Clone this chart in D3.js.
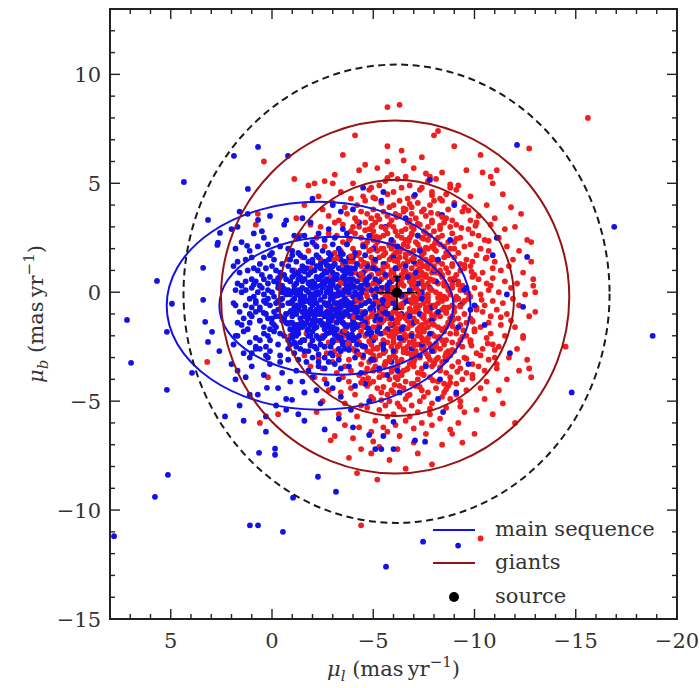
<!DOCTYPE html>
<html><head><meta charset="utf-8">
<script src="https://cdn.jsdelivr.net/npm/d3@7"></script>
<style>body{margin:0;background:#fff}svg{display:block}</style>
</head><body><svg id="c" width="700" height="688"></svg>
<script>
// ---- axes ----
const xDomain=[8,-20], yDomain=[-15,13];
const xMajor=[5,0,-5,-10,-15,-20];
const yMajor=[10,5,0,-5,-10,-15];
// ---- giants (red) : [mu_l, mu_b] ----
const giantsCore=[
[-4.3,5.6],[-5.9,5.4],[-7.0,5.7],[-8.4,5.5],[-6.6,5.3],[-3.1,5.4],[-9.6,5.6],[-5.2,5.7],[-7.8,5.3],[-10.4,5.5],
[-5.6,5.1],[-6.8,4.9],[-4.0,5.0],[-8.1,5.2],[-7.4,4.8],[-2.6,5.1],[-9.2,4.9],[-6.2,5.2],[-4.9,4.8],[-10.9,5.0],[-7.7,5.1],[-5.3,4.9],[-8.8,4.8],[-1.8,4.9],
[-6.0,4.6],[-4.5,4.4],[-7.3,4.7],[-8.6,4.5],[-5.1,4.3],[-3.4,4.6],[-9.8,4.4],[-6.7,4.3],[-7.9,4.6],[-4.8,4.7],[-11.4,4.5],[-5.7,4.5],[-2.3,4.4],[-8.3,4.3],[-6.4,4.8],[-9.1,4.7],[-3.9,4.3],[-7.0,4.4],
[-5.4,4.1],[-6.9,3.9],[-4.2,4.0],[-8.0,4.2],[-7.5,3.8],[-3.0,4.1],[-9.5,3.9],[-6.3,4.2],[-5.0,3.8],[-10.6,4.0],[-7.2,4.1],[-5.8,3.9],[-8.7,3.8],[-1.6,4.0],[-4.6,4.2],[-6.6,3.8],[-9.0,4.1],[-3.6,3.9],[-7.8,4.0],[-11.8,3.9],[-6.0,4.0],[-2.5,3.8],[-8.4,4.2],
[-6.1,3.6],[-4.9,3.4],[-7.6,3.5],[-5.5,3.7],[-8.9,3.3],[-3.7,3.6],[-6.8,3.3],[-10.2,3.5],[-4.4,3.7],[-7.1,3.4],[-5.9,3.3],[-9.4,3.7],[-2.8,3.5],[-8.2,3.6],[-6.5,3.7],[-5.2,3.5],[-11.0,3.4],[-7.9,3.3],[-3.3,3.3],[-6.3,3.5],[-8.6,3.4],[-4.7,3.6],[-12.3,3.6],[-7.4,3.7],[-1.2,3.4],[-5.7,3.5],[-9.8,3.3],[-6.9,3.6],[-4.1,3.4],
[-5.8,3.1],[-7.0,2.9],[-4.3,3.0],[-8.5,3.2],[-6.4,2.8],[-3.5,3.1],[-9.7,2.9],[-5.1,3.2],[-7.7,3.0],[-6.1,2.8],[-10.8,3.1],[-4.8,2.9],[-8.0,2.8],[-2.4,3.0],[-6.7,3.2],[-5.4,3.0],[-9.1,3.1],[-7.3,3.1],[-3.9,2.8],[-11.5,2.9],[-6.0,3.0],[-8.3,2.9],[-4.6,3.2],[-7.5,2.8],[-5.6,2.9],[-10.1,3.2],[-1.9,3.1],[-6.9,3.0],[-8.8,3.0],[-3.1,3.2],[-5.0,2.8],[-7.9,3.2],[-6.6,2.9],[-12.0,3.0],[-4.0,3.0],
[-6.2,2.6],[-5.0,2.4],[-7.4,2.5],[-4.1,2.7],[-8.7,2.3],[-6.6,2.4],[-3.2,2.6],[-9.3,2.5],[-5.7,2.7],[-7.8,2.6],[-10.5,2.4],[-4.7,2.3],[-6.9,2.7],[-8.1,2.4],[-2.2,2.5],[-5.3,2.5],[-7.1,2.3],[-9.9,2.7],[-6.0,2.3],[-3.8,2.4],[-8.4,2.6],[-11.2,2.5],[-5.5,2.6],[-7.6,2.7],[-4.4,2.5],[-6.4,2.5],[-9.0,2.3],[-1.4,2.6],[-8.9,2.7],[-5.9,2.4],[-7.2,2.6],[-3.5,2.3],[-10.2,2.6],[-6.8,2.5],[-4.9,2.6],[-8.2,2.5],[-12.6,2.4],[-5.2,2.3],[-7.7,2.4],[-2.8,2.7],
[-6.0,2.1],[-5.2,1.9],[-7.3,2.0],[-4.5,2.2],[-8.6,1.8],[-6.5,2.2],[-3.4,1.9],[-9.5,2.1],[-5.6,1.8],[-7.9,2.1],[-10.7,1.9],[-4.0,2.0],[-6.8,1.8],[-8.3,2.2],[-2.6,2.1],[-5.4,2.0],[-7.0,1.9],[-9.2,1.8],[-6.2,1.9],[-3.7,2.2],[-8.0,2.0],[-11.6,2.1],[-5.8,2.2],[-7.5,1.8],[-4.8,1.9],[-6.4,2.0],[-9.8,2.2],[-1.8,1.9],[-8.8,2.0],[-5.1,2.1],[-7.2,2.2],[-3.1,1.8],[-10.3,2.0],[-6.7,2.1],[-4.3,1.8],[-8.5,2.1],[-12.2,1.9],[-5.5,2.0],[-7.7,2.0],[-2.1,2.2],[-6.1,1.8],[-9.0,2.0],[-4.6,2.1],[-7.4,1.9],[-5.9,2.0],[-8.1,1.9],
[-6.3,1.6],[-5.1,1.4],[-7.6,1.5],[-4.2,1.7],[-8.9,1.3],[-6.7,1.4],[-3.3,1.6],[-9.6,1.5],[-5.5,1.7],[-7.9,1.6],[-11.0,1.4],[-4.7,1.3],[-6.0,1.7],[-8.2,1.4],[-2.4,1.5],[-5.8,1.5],[-7.1,1.3],[-10.1,1.7],[-6.5,1.3],[-3.8,1.4],[-8.5,1.6],[-11.9,1.5],[-5.3,1.6],[-7.4,1.7],[-4.4,1.5],[-6.1,1.5],[-9.3,1.3],[-1.5,1.6],[-8.7,1.7],[-5.0,1.4],[-7.0,1.6],[-3.5,1.3],[-10.6,1.6],[-6.9,1.5],[-4.9,1.6],[-8.0,1.5],[-12.8,1.4],[-5.6,1.3],[-7.8,1.4],[-2.9,1.7],[-6.2,1.4],[-9.0,1.6],[-4.0,1.4],[-7.3,1.4],[-5.9,1.6],[-8.4,1.3],[-6.6,1.6],[-3.0,1.5],[-9.9,1.4],[-7.7,1.3],[-0.8,1.5],
[-6.1,1.1],[-5.3,0.9],[-7.2,1.0],[-4.4,1.2],[-8.4,0.8],[-6.6,0.9],[-3.6,1.1],[-9.3,1.0],[-5.7,1.2],[-7.7,1.1],[-10.4,0.9],[-4.9,0.8],[-6.3,1.2],[-8.1,0.9],[-2.7,1.0],[-5.9,1.0],[-7.0,0.8],[-9.8,1.2],[-6.8,0.8],[-4.1,0.9],[-8.6,1.1],[-11.3,1.0],[-5.1,1.1],[-7.5,1.2],[-4.6,1.0],[-6.0,0.9],[-9.1,0.8],[-1.9,1.1],[-8.9,1.2],[-5.5,0.9],[-7.3,1.1],[-3.2,0.8],[-10.9,1.1],[-6.5,1.0],[-5.0,1.2],[-8.3,1.0],[-12.4,0.9],[-5.8,0.8],[-7.9,0.9],[-3.0,1.2],[-6.4,0.8],[-9.5,1.1],[-4.3,0.8],[-7.4,0.9],[-6.2,1.1],[-8.0,1.2],[-6.9,1.1],[-3.9,1.0],[-10.0,0.8],[-7.6,0.8],[-1.1,1.0],[-5.4,1.0],[-8.7,0.9],[-4.8,1.1],[-11.7,1.2],
[-6.0,0.6],[-5.2,0.4],[-7.4,0.5],[-4.5,0.7],[-8.6,0.3],[-6.4,0.4],[-3.4,0.6],[-9.2,0.5],[-5.6,0.7],[-7.8,0.6],[-10.6,0.4],[-4.8,0.3],[-6.7,0.7],[-8.2,0.4],[-2.5,0.5],[-5.9,0.5],[-7.1,0.3],[-9.9,0.7],[-6.2,0.3],[-3.9,0.4],[-8.8,0.6],[-11.5,0.5],[-5.4,0.6],[-7.6,0.7],[-4.2,0.5],[-6.3,0.5],[-9.4,0.3],[-1.6,0.6],[-8.4,0.7],[-5.0,0.4],[-7.0,0.6],[-3.0,0.3],[-10.2,0.6],[-6.8,0.5],[-4.7,0.6],[-8.0,0.5],[-12.1,0.4],[-5.7,0.3],[-7.7,0.4],[-2.9,0.7],[-6.5,0.3],[-9.0,0.6],[-4.0,0.3],[-7.3,0.4],[-6.1,0.7],[-8.5,0.3],[-6.9,0.6],[-3.6,0.5],[-10.8,0.3],[-7.5,0.3],[-0.9,0.5],[-5.3,0.5],[-8.9,0.4],[-4.4,0.6],[-12.9,0.6],[-5.8,0.4],[-7.2,0.7],
[-6.2,0.1],[-5.0,-0.1],[-7.3,0.0],[-4.3,0.2],[-8.5,-0.2],[-6.6,-0.1],[-3.5,0.1],[-9.6,0.0],[-5.5,0.2],[-7.9,0.1],[-10.3,-0.1],[-4.7,-0.2],[-6.0,0.2],[-8.3,-0.1],[-2.3,0.0],[-5.8,0.0],[-7.0,-0.2],[-10.0,0.2],[-6.4,-0.2],[-3.8,-0.1],[-8.7,0.1],[-11.2,0.0],[-5.3,0.1],[-7.5,0.2],[-4.5,0.0],[-6.1,0.0],[-9.1,-0.2],[-1.7,0.1],[-8.9,0.2],[-5.1,-0.1],[-7.2,0.1],[-3.1,-0.2],[-10.7,0.1],[-6.8,0.0],[-4.9,0.1],[-8.1,0.0],[-12.5,-0.1],[-5.6,-0.2],[-7.7,-0.1],[-2.7,0.2],[-6.5,-0.2],[-9.3,0.1],[-4.1,-0.2],[-7.4,-0.1],[-5.9,0.2],[-8.4,-0.2],[-6.9,0.1],[-3.3,0.0],[-9.8,-0.2],[-7.6,-0.2],[-1.2,0.0],[-5.4,0.0],[-8.8,-0.1],[-4.6,0.1],[-11.8,0.2],[-5.7,-0.1],[-7.1,0.2],[-13.0,0.0],
[-6.1,-0.4],[-5.3,-0.6],[-7.5,-0.5],[-4.4,-0.3],[-8.7,-0.7],[-6.3,-0.6],[-3.6,-0.4],[-9.4,-0.5],[-5.7,-0.3],[-7.7,-0.4],[-10.5,-0.6],[-4.9,-0.7],[-6.6,-0.3],[-8.0,-0.6],[-2.6,-0.5],[-5.9,-0.5],[-7.1,-0.7],[-9.7,-0.3],[-6.2,-0.7],[-4.0,-0.6],[-8.4,-0.4],[-11.4,-0.5],[-5.2,-0.4],[-7.4,-0.3],[-4.6,-0.5],[-6.0,-0.5],[-9.0,-0.7],[-1.9,-0.4],[-8.6,-0.3],[-5.0,-0.6],[-7.0,-0.4],[-3.2,-0.7],[-10.9,-0.4],[-6.9,-0.5],[-4.8,-0.4],[-8.2,-0.5],[-12.2,-0.6],[-5.5,-0.7],[-7.8,-0.6],[-2.9,-0.3],[-6.4,-0.7],[-9.5,-0.4],[-4.2,-0.7],[-7.3,-0.6],[-5.8,-0.3],[-8.5,-0.7],[-6.7,-0.4],[-3.4,-0.5],[-10.1,-0.7],[-7.6,-0.7],[-1.0,-0.5],[-5.4,-0.5],[-8.9,-0.6],[-4.3,-0.4],[-11.9,-0.3],[-5.6,-0.6],[-7.2,-0.3],[-9.2,-0.3],
[-6.0,-0.9],[-5.1,-1.1],[-7.3,-1.0],[-4.2,-0.8],[-8.8,-1.2],[-6.5,-1.1],[-3.3,-0.9],[-9.5,-1.0],[-5.6,-0.8],[-7.8,-0.9],[-10.8,-1.1],[-4.7,-1.2],[-6.8,-0.8],[-8.3,-1.1],[-2.4,-1.0],[-5.8,-1.0],[-7.0,-1.2],[-10.1,-0.8],[-6.3,-1.2],[-3.8,-1.1],[-8.6,-0.9],[-11.6,-1.0],[-5.3,-0.9],[-7.6,-0.8],[-4.5,-1.0],[-6.2,-1.0],[-9.2,-1.2],[-1.5,-0.9],[-8.4,-0.8],[-4.9,-1.1],[-7.1,-0.9],[-3.0,-1.2],[-10.4,-0.9],[-6.7,-1.0],[-5.0,-0.9],[-8.1,-1.0],[-12.7,-1.1],[-5.7,-1.2],[-7.9,-1.1],[-2.8,-0.8],[-6.6,-1.2],[-9.0,-0.9],[-4.0,-1.2],[-7.4,-1.1],[-6.1,-0.8],[-8.0,-1.2],[-6.9,-0.9],[-3.6,-1.0],[-9.8,-1.2],[-7.5,-1.2],[-0.7,-1.0],[-5.5,-1.0],[-8.9,-1.1],[-4.4,-0.9],[-11.1,-0.8],[-5.9,-1.1],[-7.2,-0.8],
[-6.2,-1.4],[-5.2,-1.6],[-7.4,-1.5],[-4.6,-1.3],[-8.5,-1.7],[-6.4,-1.6],[-3.5,-1.4],[-9.3,-1.5],[-5.5,-1.3],[-7.6,-1.4],[-10.3,-1.6],[-4.8,-1.7],[-6.7,-1.3],[-8.2,-1.6],[-2.7,-1.5],[-6.0,-1.5],[-7.2,-1.7],[-9.9,-1.3],[-6.5,-1.7],[-4.1,-1.6],[-8.7,-1.4],[-11.3,-1.5],[-5.4,-1.4],[-7.8,-1.3],[-4.3,-1.5],[-5.9,-1.5],[-9.1,-1.7],[-2.0,-1.4],[-8.9,-1.3],[-5.0,-1.6],[-7.0,-1.4],[-3.1,-1.7],[-10.7,-1.4],[-6.9,-1.5],[-4.7,-1.4],[-8.0,-1.5],[-12.0,-1.6],[-5.7,-1.7],[-7.7,-1.6],[-3.0,-1.3],[-6.3,-1.7],[-9.6,-1.4],[-4.0,-1.7],[-7.3,-1.6],[-6.1,-1.3],[-8.4,-1.7],[-6.8,-1.4],[-3.7,-1.5],[-10.0,-1.7],[-7.5,-1.7],[-1.3,-1.5],[-5.3,-1.5],[-8.6,-1.6],[-4.5,-1.4],[-11.8,-1.3],
[-6.1,-1.9],[-5.0,-2.1],[-7.2,-2.0],[-4.4,-1.8],[-8.6,-2.2],[-6.6,-2.1],[-3.4,-1.9],[-9.6,-2.0],[-5.6,-1.8],[-7.9,-1.9],[-10.6,-2.1],[-4.9,-2.2],[-6.3,-1.8],[-8.2,-2.1],[-2.5,-2.0],[-5.8,-2.0],[-7.0,-2.2],[-10.0,-1.8],[-6.4,-2.2],[-3.9,-2.1],[-8.8,-1.9],[-11.5,-2.0],[-5.3,-1.9],[-7.5,-1.8],[-4.6,-2.0],[-6.0,-2.0],[-9.3,-2.2],[-1.7,-1.9],[-8.5,-1.8],[-5.1,-2.1],[-7.3,-1.9],[-3.2,-2.2],[-10.8,-1.9],[-6.8,-2.0],[-4.8,-1.9],[-8.0,-2.0],[-12.4,-2.1],[-5.5,-2.2],[-7.7,-2.1],[-2.9,-1.8],[-6.5,-2.2],[-9.1,-1.9],[-4.2,-2.2],[-7.4,-2.1],[-5.9,-1.8],[-8.4,-2.2],[-6.9,-1.9],[-3.6,-2.0],[-9.8,-2.2],[-7.6,-2.2],[-0.9,-2.0],
[-6.3,-2.4],[-5.2,-2.6],[-7.5,-2.5],[-4.3,-2.3],[-8.7,-2.7],[-6.5,-2.6],[-3.5,-2.4],[-9.4,-2.5],[-5.7,-2.3],[-7.8,-2.4],[-10.4,-2.6],[-4.7,-2.7],[-6.8,-2.3],[-8.3,-2.6],[-2.6,-2.5],[-5.9,-2.5],[-7.1,-2.7],[-9.8,-2.3],[-6.1,-2.7],[-4.0,-2.6],[-8.5,-2.4],[-11.2,-2.5],[-5.4,-2.4],[-7.7,-2.3],[-4.5,-2.5],[-6.2,-2.5],[-9.0,-2.7],[-1.9,-2.4],[-8.9,-2.3],[-5.0,-2.6],[-7.2,-2.4],[-3.1,-2.7],[-10.9,-2.4],[-6.7,-2.5],[-4.9,-2.4],[-8.1,-2.5],[-12.1,-2.6],[-5.6,-2.7],[-7.9,-2.6],[-2.8,-2.3],[-6.6,-2.7],[-9.2,-2.4],[-4.1,-2.7],[-7.4,-2.6],[-6.0,-2.3],[-8.0,-2.7],
[-6.0,-2.9],[-5.1,-3.1],[-7.3,-3.0],[-4.2,-2.8],[-8.4,-3.2],[-6.4,-3.1],[-3.3,-2.9],[-9.5,-3.0],[-5.5,-2.8],[-7.7,-2.9],[-10.7,-3.1],[-4.8,-3.2],[-6.7,-2.8],[-8.1,-3.1],[-2.3,-3.0],[-5.8,-3.0],[-7.0,-3.2],[-10.1,-2.8],[-6.2,-3.2],[-3.8,-3.1],[-8.8,-2.9],[-11.7,-3.0],[-5.3,-2.9],[-7.6,-2.8],[-4.5,-3.0],[-6.1,-3.0],[-9.2,-3.2],[-1.6,-2.9],[-8.6,-2.8],[-4.9,-3.1],[-7.1,-2.9],[-3.0,-3.2],[-10.3,-2.9],[-6.9,-3.0],[-5.0,-2.9],[-8.2,-3.0],[-12.6,-3.1],[-5.6,-3.2],[-7.8,-3.1],[-2.7,-2.8],
[-6.2,-3.4],[-5.3,-3.6],[-7.4,-3.5],[-4.4,-3.3],[-8.6,-3.7],[-6.5,-3.6],[-3.6,-3.4],[-9.3,-3.5],[-5.6,-3.3],[-7.9,-3.4],[-10.5,-3.6],[-4.6,-3.7],[-6.8,-3.3],[-8.3,-3.6],[-2.5,-3.5],[-5.9,-3.5],[-7.2,-3.7],[-9.9,-3.3],[-6.3,-3.7],[-3.9,-3.6],[-8.9,-3.4],[-11.1,-3.5],[-5.1,-3.4],[-7.6,-3.3],[-4.7,-3.5],[-6.0,-3.5],[-9.6,-3.7],[-1.9,-3.4],[-8.0,-3.3],[-5.0,-3.6],[-7.0,-3.4],[-3.2,-3.7],[-10.2,-3.4],[-6.7,-3.5],[-12.2,-3.6],
[-6.1,-3.9],[-5.0,-4.1],[-7.2,-4.0],[-4.3,-3.8],[-8.5,-4.2],[-6.6,-4.1],[-3.5,-3.9],[-9.4,-4.0],[-5.5,-3.8],[-7.8,-3.9],[-10.6,-4.1],[-4.8,-4.2],[-6.4,-3.8],[-8.2,-4.1],[-2.6,-4.0],[-5.8,-4.0],[-7.0,-4.2],[-9.9,-3.8],[-6.9,-4.2],[-3.8,-4.1],[-8.8,-3.9],[-11.6,-4.0],[-5.3,-3.9],[-7.5,-3.8],[-4.5,-4.0],[-6.2,-4.0],[-9.1,-4.2],[-2.1,-3.9],[-12.8,-3.9],
[-6.0,-4.6],[-5.2,-4.4],[-7.4,-4.5],[-4.1,-4.7],[-8.7,-4.3],[-6.5,-4.4],[-3.4,-4.6],[-9.6,-4.5],[-5.7,-4.7],[-7.7,-4.6],[-10.3,-4.4],[-4.7,-4.3],[-6.8,-4.7],[-8.1,-4.4],[-2.8,-4.5],[-5.9,-4.5],[-7.1,-4.3],[-9.1,-4.7],[-6.3,-4.3],[-3.9,-4.4],[-8.5,-4.6],[-11.2,-4.5],[-5.4,-4.6],
[-6.2,-5.1],[-5.0,-4.9],[-7.3,-5.0],[-4.4,-5.2],[-8.4,-4.8],[-6.6,-4.9],[-3.6,-5.1],[-9.3,-5.0],[-5.6,-5.2],[-7.9,-5.1],[-10.5,-4.9],[-4.9,-4.8],[-6.9,-5.2],[-8.8,-4.9],[-2.5,-5.0],[-5.8,-5.0],[-7.5,-4.8],[-11.4,-5.1],
[-6.0,-5.6],[-5.3,-5.4],[-7.2,-5.5],[-4.2,-5.7],[-8.6,-5.3],[-6.5,-5.4],[-3.3,-5.6],[-9.5,-5.5],[-5.7,-5.7],[-7.8,-5.6],[-10.1,-5.4],[-4.7,-5.3],[-6.8,-5.7],[-2.2,-5.5],
[-6.1,-6.1],[-5.1,-5.9],[-7.4,-6.0],[-4.3,-6.2],[-8.3,-5.8],[-6.6,-5.9],[-3.6,-6.1],[-9.2,-6.0],[-5.5,-6.2],[-7.9,-6.1],
[-6.3,-6.6],[-4.9,-6.4],[-7.6,-6.5],[-4.0,-6.7],[-8.8,-6.3],[-5.7,-6.4],[-3.1,-6.6],[-10.0,-6.5],
[-5.3,-7.1],[-7.0,-6.9],[-4.4,-7.2],[-8.4,-7.0],[-6.2,-7.2],
[-4.9,-7.4],[-7.2,-7.4],[-5.8,-7.7],[-3.8,-7.6]
];
const giantsDense=[
[-6.5,3.85],[-7.2,3.15],[-5.3,3.35],[-8.3,3.05],[-4.6,2.85],[-6.9,2.65],[-9.1,2.45],[-5.8,2.15],[-7.6,2.05],[-4.9,1.95],[-8.7,1.75],[-6.3,1.85],[-3.9,1.65],[-7.0,1.55],[-9.5,1.25],[-5.5,1.15],[-8.0,1.05],[-6.6,0.95],[-4.4,0.85],[-7.4,0.75],[-9.0,0.65],[-5.9,0.55],[-8.5,0.45],[-6.9,0.35],[-4.7,0.25],[-7.8,0.15],[-5.3,0.05],[-9.7,-0.05],[-6.4,-0.15],[-8.2,-0.25],[-4.2,-0.35],[-7.1,-0.45],[-5.7,-0.55],[-9.3,-0.65],[-6.8,-0.75],[-4.9,-0.85],[-8.6,-0.95],[-7.5,-1.05],[-5.4,-1.15],[-6.2,-1.25],[-9.9,-1.35],[-7.9,-1.45],[-4.5,-1.55],[-6.7,-1.65],[-8.4,-1.75],[-5.6,-1.85],[-7.3,-1.95],[-9.4,-2.05],[-6.0,-2.15],[-4.8,-2.25],[-8.1,-2.35],[-7.0,-2.45],[-5.2,-2.55],[-8.9,-2.65],[-6.5,-2.75],[-4.3,-2.85],[-7.7,-2.95],[-9.6,-3.05],[-5.8,-3.15],[-6.9,-3.25],[-8.3,-3.45],[-5.0,-3.55],[-7.4,-3.75],[-6.2,-3.95],[-8.8,-4.15],[-5.5,-4.35],
[-6.15,3.45],[-7.85,3.65],[-4.95,3.05],[-9.35,2.95],[-6.75,2.35],[-5.15,2.55],[-8.05,2.25],[-7.35,1.35],[-6.05,1.45],[-4.55,1.35],[-9.85,0.95],[-7.95,0.55],[-6.45,0.65],[-5.25,0.85],[-8.75,0.15],[-7.25,-0.05],[-5.95,-0.25],[-4.65,-0.05],[-9.05,-0.35],[-6.85,-0.35],[-8.05,-0.65],[-5.45,-0.75],[-7.65,-0.85],[-6.35,-1.05],[-4.05,-1.15],[-8.95,-1.25],[-7.15,-1.35],[-5.85,-1.45],[-9.45,-1.75],[-6.55,-1.95],[-8.25,-2.05],[-5.05,-2.05],[-7.45,-2.25],[-6.25,-2.45],[-9.85,-2.45],[-4.85,-2.75],[-8.55,-2.95],[-7.05,-3.05],[-5.55,-3.35],[-6.65,-3.55],[-9.15,-3.65],[-7.95,-4.05],[-6.05,-4.25],[-4.75,-3.95],[-10.55,1.55],[-10.35,-0.35],[-10.65,-2.35],[-3.85,2.45],[-3.75,-2.35],[-10.05,3.05],
[-6.6,1.75],[-7.5,2.45],[-5.6,2.95],[-8.4,3.45],[-6.8,4.05],[-5.0,4.35],[-7.9,4.45],[-9.7,3.75],[-4.2,3.25],[-6.0,0.15],[-7.0,0.45],[-8.3,0.85],[-5.1,-0.45],[-6.4,-0.55],[-7.7,-0.25],[-9.2,0.35],[-8.9,-1.55],[-6.1,-1.65],[-7.2,-1.75],[-5.3,-1.35],[-6.9,-2.85],[-8.0,-3.25],[-5.9,-3.65],[-7.3,-4.35],[-6.7,-4.75],[-8.6,-4.45],[-5.4,-4.95],[-9.9,-3.95],[-4.4,-4.15],[-7.8,-5.35],[-6.3,-5.25],[-3.4,0.45],[-3.6,-1.75],[-3.2,1.55],[-10.9,0.65],[-11.3,-1.15],[-10.7,2.35],[-11.0,-2.65],[-5.7,5.25],[-7.6,5.45],[-8.8,4.95],[-6.5,6.05],[-4.6,5.85],[-9.3,-5.25],[-7.0,-6.25],[-5.0,-6.85]
];
const giantsOuter=[
[-5.7,8.5],[-6.3,8.6],[-4.1,7.2],[-8.2,7.4],[-8.0,7.2],[-15.6,8.0],[-12.7,6.6],[-9.0,6.7],[-5.7,6.7],[-6.4,6.5],[0.4,6.0],[-7.4,6.2],[-5.7,6.0],[-3.5,6.3],[-10.3,6.3],[-11.1,5.6],[-10.8,5.3],[-2.1,5.0],[-3.0,5.0],[-1.1,5.2],
[-12.8,2.3],[-12.9,0.3],[-13.0,-0.9],[-14.5,-2.5],[-12.4,-2.0],[-12.7,-3.5],[0.7,3.6],[0.8,3.1],[3.2,-3.2],[0.6,-6.0],[-0.3,-5.6],[-11.0,-3.0],[-11.1,-3.3],[-12.0,-6.0],[-8.9,-6.5],[-4.2,-8.3],[-10.3,-11.3],[-4.4,-10.7],[-9.4,-6.9],[-2.9,-6.8],[-7.9,-7.9],[-6.6,-8.1],[-5.2,-8.6],[-10.9,-5.6],[-1.6,-4.6],[0.2,-3.9]
];
// ---- main sequence (blue) ----
const msCore=[
[1.2,3.6],[-1.5,3.4],[-0.7,3.3],[-3.4,3.7],[0.1,3.5],
[-0.6,3.1],[-2.8,2.9],[1.7,3.0],[-4.3,3.2],[0.5,2.8],[-1.9,3.2],[-3.5,2.9],[-5.6,3.0],
[-1.1,2.6],[-2.6,2.4],[0.4,2.5],[-3.7,2.7],[1.5,2.3],[-0.2,2.4],[-4.8,2.6],[-2.3,2.7],[-2.0,2.3],[-3.1,2.5],[0.9,2.7],[-5.9,2.4],[-1.6,2.6],[-1.3,2.5],
[-2.2,2.1],[-1.0,1.9],[-3.3,2.0],[0.2,2.2],[-4.1,1.8],[-1.7,2.2],[1.1,1.9],[-2.8,1.8],[-0.4,2.1],[-5.0,2.0],[1.8,2.0],[-3.7,2.2],[-1.3,1.8],[0.7,2.1],[-2.5,1.9],[-6.2,2.1],[-0.8,2.0],[-3.4,1.8],[-4.5,2.1],[-3.0,2.2],[0.0,1.8],[-7.3,1.9],
[-2.3,1.6],[-1.2,1.4],[-3.4,1.5],[0.1,1.7],[-4.2,1.3],[-1.8,1.4],[1.0,1.6],[-2.9,1.7],[-0.5,1.3],[-5.1,1.5],[1.7,1.4],[-3.8,1.6],[-1.4,1.7],[0.6,1.3],[-2.6,1.4],[-6.0,1.6],[-0.9,1.5],[-2.2,1.7],[-4.6,1.7],[-3.1,1.3],[-0.1,1.5],[-7.0,1.4],[-2.0,1.5],[1.3,1.5],[-3.6,1.4],[-1.6,1.6],[-5.5,1.3],[0.4,1.6],[-2.4,1.3],[-4.0,1.6],[-3.3,1.6],[-1.0,1.7],[-8.2,1.5],[-2.8,1.5],
[-2.4,1.1],[-1.3,0.9],[-3.5,1.0],[0.0,1.2],[-4.3,0.8],[-1.9,0.9],[0.9,1.1],[-3.0,1.2],[-0.6,0.8],[-5.2,1.0],[1.6,0.9],[-3.9,1.1],[-1.5,1.2],[0.5,0.8],[-2.7,0.9],[-6.1,1.1],[-1.0,1.0],[-2.8,1.2],[-4.7,1.2],[-3.2,0.8],[-0.2,1.0],[-7.1,0.9],[-2.1,1.0],[1.2,1.0],[-3.7,0.9],[-1.7,1.1],[-5.6,0.8],[0.3,1.1],[-2.5,0.8],[-4.1,1.1],[-1.8,0.8],[-0.8,1.2],[-8.0,1.0],[-2.9,1.0],[-1.1,0.8],[-3.3,1.1],[0.7,1.0],[-4.5,0.9],[-2.2,1.2],[-6.6,1.2],[-0.4,0.9],[1.9,1.2],[-3.6,0.8],[-1.4,1.0],[-5.0,1.1],[-3.0,0.9],
[-2.3,0.6],[-1.2,0.4],[-3.4,0.5],[0.1,0.7],[-4.4,0.3],[-1.8,0.4],[1.0,0.6],[-3.1,0.7],[-0.5,0.3],[-5.3,0.5],[1.7,0.4],[-3.8,0.6],[-1.4,0.7],[0.6,0.3],[-2.6,0.4],[-6.2,0.6],[-0.9,0.5],[-2.5,0.5],[-4.8,0.7],[-3.3,0.3],[-0.1,0.5],[-7.2,0.4],[-2.0,0.5],[1.3,0.5],[-3.6,0.4],[-1.6,0.6],[-5.7,0.3],[0.4,0.6],[-2.4,0.3],[-4.0,0.6],[-1.3,0.6],[-1.0,0.7],[-8.1,0.5],[-2.8,0.5],[-1.1,0.3],[-3.2,0.6],[0.8,0.5],[-4.6,0.4],[-2.2,0.7],[-6.7,0.7],[-0.3,0.4],[-3.9,0.4],[-3.7,0.3],[-1.5,0.5],[-5.1,0.6],[-2.9,0.3],[-2.7,0.6],[-0.7,0.6],[-4.2,0.5],[-1.9,0.3],[0.2,0.4],[-3.0,0.4],[-5.9,0.5],[1.5,0.3],[-2.1,0.4],[-0.4,0.7],[-3.5,0.7],[-9.0,0.6],
[-2.2,0.0],[-1.4,-0.2],[-3.6,0.1],[0.2,0.1],[-4.2,-0.1],[-2.0,0.2],[0.7,0.0],[-2.9,0.1],[-0.7,-0.1],[-5.4,0.2],[1.5,0.0],[-4.0,-0.2],[-1.3,0.1],[0.4,-0.1],[-2.8,0.2],[-6.3,0.0],[-1.1,0.1],[-2.0,-0.1],[-4.9,0.1],[-3.4,-0.1],[-0.3,0.2],[-7.4,0.0],[-2.3,-0.1],[1.0,0.2],[-3.8,0.0],[-1.6,-0.2],[-5.7,0.1],[0.5,0.2],[-2.4,0.0],[-4.3,0.2],[-3.7,0.2],[-0.9,-0.1],[-7.8,0.2],[-3.0,-0.2],[-1.0,0.0],[-3.2,0.2],[0.9,-0.2],[-4.6,0.0],[-2.1,-0.2],[-6.8,0.1],[-0.5,0.0],[1.8,0.1],[-3.5,-0.1],[-1.5,0.2],[-5.1,-0.2],[-1.4,0.1],[-2.5,0.2],[-0.8,0.1],[-4.1,0.0],[-1.9,-0.1],[0.0,0.0],[-3.1,-0.1],[-6.0,-0.1],[1.3,0.1],[-2.6,-0.2],[-0.4,0.2],[-3.3,0.0],[-9.5,0.1],[-1.8,0.0],[-1.2,-0.1],[-4.5,0.1],[-2.7,0.0],[-0.1,-0.2],[-3.9,0.2],[-1.7,0.1],[-2.9,-0.1],
[-2.1,-0.5],[-1.4,-0.4],[-3.6,-0.6],[0.3,-0.5],[-4.2,-0.3],[-1.6,-0.7],[0.8,-0.5],[-3.3,-0.6],[-0.3,-0.4],[-5.5,-0.6],[1.9,-0.5],[-3.6,-0.3],[-1.2,-0.6],[0.8,-0.4],[-2.4,-0.7],[-6.0,-0.5],[-1.1,-0.3],[-2.2,-0.5],[-4.6,-0.5],[-3.5,-0.4],[0.1,-0.6],[-7.4,-0.3],[-1.8,-0.4],[1.1,-0.3],[-3.8,-0.5],[-1.4,-0.6],[-5.5,-0.4],[0.6,-0.7],[-2.6,-0.5],[-4.2,-0.7],[-3.2,-0.5],[-0.8,-0.5],[-7.9,-0.7],[-3.0,-0.3],[-0.9,-0.5],[-3.4,-0.7],[1.0,-0.7],[-4.8,-0.4],[-2.0,-0.6],[-6.5,-0.5],[-0.5,-0.3],[1.8,-0.6],[-3.9,-0.5],[-1.7,-0.4],[-5.3,-0.7],[-1.9,-0.5],[-2.9,-0.3],[-0.5,-0.6],[-4.0,-0.7],[-2.1,-0.3],[0.4,-0.4],[-2.8,-0.5],[-6.1,-0.7],[1.3,-0.6],[-2.3,-0.7],[-0.2,-0.5],[-3.7,-0.4],[-9.3,-0.6],[-2.7,-0.6],[-1.1,-0.7],[-5.1,-0.3],[-3.1,-0.5],[0.2,-0.3],[-4.1,-0.4],[-1.5,-0.3],[-6.7,-0.4],[-1.0,-0.4],[-10.0,-0.6],[-4.4,-0.6],[-5.7,-0.6],
[-2.5,-1.0],[-1.1,-0.9],[-3.3,-1.2],[-0.1,-0.9],[-4.5,-1.0],[-1.8,-1.2],[1.1,-1.0],[-3.2,-0.9],[-0.4,-1.1],[-5.0,-0.8],[1.4,-1.2],[-4.1,-1.0],[-1.6,-1.1],[0.6,-0.8],[-2.8,-1.0],[-5.9,-1.2],[-0.9,-0.9],[-2.3,-1.0],[-4.6,-0.9],[-3.0,-1.1],[-0.3,-0.8],[-7.3,-1.0],[-2.2,-0.8],[1.0,-1.1],[-3.6,-0.9],[-1.9,-1.0],[-5.5,-0.9],[0.2,-1.2],[-2.6,-1.1],[-4.0,-0.8],[-3.4,-1.2],[-0.7,-1.0],[-8.2,-0.9],[-2.9,-1.2],[-1.2,-1.0],[-3.5,-1.1],[0.8,-0.9],[-4.4,-1.2],[-2.0,-0.9],[-6.4,-1.0],[-0.6,-1.2],[-1.1,-1.0],[-3.7,-1.0],[-1.3,-0.8],[-5.2,-1.1],[-2.9,-0.9],[-2.4,-0.8],[-1.0,-1.1],[-3.9,-1.1],[-1.7,-0.9],[0.3,-1.0],[-3.1,-0.8],[-5.7,-1.0],[1.6,-0.9],[-2.1,-1.1],[-0.2,-1.1],[-3.4,-1.0],[-8.9,-1.2],[-1.9,-0.8],[-1.4,-1.2],[-4.2,-0.9],[-2.7,-0.9],[0.0,-1.2],[-3.8,-0.8],[-1.5,-0.9],[-6.8,-1.1],[-1.6,-1.0],[-9.8,-0.8],
[-2.5,-1.5],[-1.0,-1.4],[-3.2,-1.7],[-0.1,-1.5],[-4.6,-1.4],[-2.0,-1.3],[1.2,-1.7],[-2.9,-1.6],[-0.7,-1.4],[-5.1,-1.3],[1.5,-1.5],[-4.0,-1.7],[-1.6,-1.5],[0.4,-1.6],[-2.4,-1.3],[-6.4,-1.7],[-1.1,-1.6],[-2.8,-1.4],[-4.6,-1.6],[-3.5,-1.4],[0.1,-1.7],[-7.0,-1.4],[-2.2,-1.3],[1.1,-1.4],[-3.4,-1.3],[-1.8,-1.7],[-5.9,-1.5],[0.6,-1.3],[-2.2,-1.6],[-4.2,-1.6],[-3.6,-1.5],[-1.2,-1.5],[-7.9,-1.3],[-2.6,-1.7],[-0.9,-1.4],[-3.0,-1.6],[0.6,-1.3],[-4.4,-1.5],[-2.4,-1.4],[-6.5,-1.6],[-0.5,-1.3],[-2.1,-1.4],[-3.9,-1.5],[-1.3,-1.7],[-5.3,-1.6],[-1.4,-1.5],[-2.9,-1.3],[-0.9,-1.7],[-4.0,-1.3],[-1.7,-1.4],[0.0,-1.4],[-3.2,-1.4],[-5.7,-1.7],[1.7,-1.4],[-1.9,-1.5],[-0.2,-1.6],[-3.7,-1.6],[-9.2,-1.6],[-2.7,-1.6],[-1.5,-1.6],
[-2.2,-2.0],[-1.5,-2.2],[-3.7,-1.9],[0.2,-2.0],[-4.1,-2.1],[-2.0,-1.8],[0.8,-2.1],[-3.2,-2.0],[-0.4,-1.9],[-5.0,-2.2],[1.8,-2.0],[-4.0,-2.2],[-1.2,-2.0],[0.4,-1.9],[-2.9,-1.8],[-6.3,-2.1],[-0.8,-2.2],[-2.6,-2.0],[-4.9,-2.0],[-3.4,-2.1],[-0.1,-1.8],[-6.9,-2.0],[-2.3,-2.1],[1.4,-1.8],[-3.5,-1.8],[-1.8,-2.0],[-5.4,-1.9],[0.1,-2.2],[-2.7,-1.9],[-4.3,-2.0],[-3.3,-2.1],[-1.0,-2.1],[-7.8,-1.9],[-3.0,-2.2],[-1.3,-1.9],[-3.1,-1.8],[0.6,-2.2],[-4.7,-1.9],[-2.0,-2.2],[-6.4,-2.1],[-0.6,-2.0],[1.7,-2.0],[-3.8,-2.1],[-1.6,-2.2],[-5.2,-1.8],[-1.9,-2.0],[-2.5,-2.1],[-1.1,-1.8],
[-2.1,-2.5],[-1.4,-2.3],[-3.6,-2.6],[0.3,-2.5],[-4.2,-2.4],[-1.6,-2.7],[0.8,-2.5],[-3.3,-2.6],[-0.3,-2.4],[-5.5,-2.6],[1.9,-2.4],[-3.6,-2.3],[-1.2,-2.5],[0.8,-2.6],[-2.4,-2.4],[-6.0,-2.7],[-1.1,-2.3],[-2.9,-2.5],[-4.6,-2.5],[-3.5,-2.4],[0.1,-2.7],[-7.4,-2.4],[-1.8,-2.7],[1.1,-2.3],[-3.8,-2.4],[-1.4,-2.6],[-5.5,-2.4],[0.6,-2.6],[-2.6,-2.5],[-4.2,-2.7],[-2.2,-2.6],[-0.8,-2.6],[-7.9,-2.7],[-3.0,-2.3],[-0.9,-2.4],[-3.4,-2.7],
[-2.6,-3.0],[-1.1,-2.8],[-3.3,-3.1],[0.2,-3.0],[-4.5,-2.9],[-1.7,-3.2],[1.1,-3.0],[-2.8,-3.2],[-0.4,-2.9],[-5.0,-3.1],[1.4,-2.8],[-4.1,-3.0],[-1.3,-3.1],[0.3,-2.9],[-2.9,-2.8],[-5.9,-3.2],[-0.8,-3.1],[-2.0,-3.0],[-4.9,-3.1],[-3.0,-2.9],[-0.4,-3.2],[-7.3,-2.9],[-2.3,-3.2],[1.0,-2.8],
[-2.3,-3.4],[-1.2,-3.6],[-3.4,-3.5],[0.1,-3.3],[-4.4,-3.7],[-1.8,-3.6],[1.0,-3.4],[-3.1,-3.3],[-0.5,-3.7],[-5.3,-3.5],[1.7,-3.6],[-3.8,-3.4],[-6.2,-3.6],[-2.6,-3.5],[-7.6,-3.4],
[-2.0,-3.9],[-0.9,-4.1],[-3.3,-4.0],[0.4,-3.8],[-4.6,-4.2],[-1.5,-4.1],[1.3,-3.9],[-5.7,-3.8],[-2.7,-4.2],[-8.3,-4.0],
[-1.6,-4.6],[-3.0,-4.4],[0.7,-4.7],[-4.1,-4.3],[-0.3,-4.4],[-6.3,-4.6],[-2.2,-4.5],
[-2.4,-5.1],[-0.7,-4.9],[-4.8,-5.0],[1.6,-5.2],[-3.4,-4.8],
[-1.3,-5.6],[-3.9,-5.4],[0.3,-5.7]
];
const msDense=[
[-1.25,0.85],[-2.45,0.75],[-3.55,0.65],[-4.65,0.55],[-1.85,0.45],[-2.95,0.35],[-4.05,0.25],[-5.15,0.15],[-1.05,0.05],[-2.15,-0.05],[-3.25,-0.15],[-4.35,-0.25],[-5.45,-0.35],[-1.55,-0.45],[-2.65,-0.55],[-3.75,-0.65],[-4.85,-0.75],[-0.95,-0.85],[-2.05,-0.95],[-3.15,-1.05],[-4.25,-1.15],[-5.35,-1.25],[-1.45,-1.35],[-2.55,-1.45],[-3.65,-1.55],[-4.75,-1.65],[-1.75,-1.75],[-2.85,-1.85],[-3.95,-1.95],[-2.35,-2.15],[-3.45,-2.25],[-1.15,-2.35],[-4.45,-2.45],
[-1.6,0.95],[-2.7,1.25],[-3.9,0.85],[-0.6,0.15],[-1.9,-0.25],[-3.0,0.55],[-4.4,-0.05],[-5.0,-0.55],[-0.8,-1.45],[-2.1,-1.65],[-3.3,-0.85],[-4.1,-1.45],[-2.4,-0.35],[-3.6,0.05],[-1.3,-0.65],[-2.8,-1.25],[-4.7,0.35],[-3.1,-1.95],[-1.9,-2.45],[-2.6,0.95],[-0.4,-0.35],[-5.6,-0.95],[-3.8,-2.65],[-2.0,1.35],
[-1.4,-0.05],[-2.2,0.25],[-3.4,-0.45],[-4.6,-0.95],[-2.9,-0.65],[-1.7,-1.15],[-3.7,1.15],[-4.9,-1.85],[-0.3,0.65],[-5.8,0.45],[-6.4,-0.15],[-1.0,-1.95],[0.4,-0.95],[0.9,0.35],[-2.3,-2.85],[-3.5,1.75]
];
const msOuter=[
[4.35,5.06],[5.68,0.52],[7.16,-1.27],[6.96,-3.24],[5.19,-4.48],[5.14,-8.38],[5.78,-9.39],[7.8,-11.2],[3.16,3.32],[4.94,-0.53],[5.19,-1.82],[3.95,-3.7],[3.4,1.12],[3.4,-0.35],[3.3,-1.36],[2.96,-1.82],[3.16,-2.28],[2.7,2.17],
[0.69,6.67],[1.88,6.26],[1.19,4.74],[-0.79,6.26],[2.57,2.72],[2.67,2.27],[1.23,2.13],[0.69,3.32],
[-12.1,6.76],[-16.9,3.0],[-12.6,1.62],[-12.4,-0.67],[-18.8,-2.0],[-14.8,-4.6],
[2.32,-5.7],[0.3,-6.4],[0.64,-7.37],[-0.15,-7.18],[-0.15,-7.46],[-2.27,-8.47],[0.25,-4.39],[-0.99,-4.94],
[1.09,-10.7],[0.69,-10.7],[-0.54,-11.0],[-3.16,-9.16],[-1.04,-9.43],[-7.46,-11.45],[-9.19,-11.63],[-5.63,-12.6],
[-7.8,5.16],[-5.5,4.6],[-4.5,4.8],[-7.06,4.47],[-8.4,3.55],[-10.9,1.7],[-11.6,-0.1],[-11.75,-2.8],[-8.6,-3.1],[-8.2,-4.9],[-8.45,-5.5],
[-7.06,-6.8],[-7.56,-6.86],[-5.5,-6.6],[-5.4,-7.2],[-6.0,-7.2],[-5.1,-7.2],[-4.0,-6.2],[-4.8,-6.55],[-6.0,-5.95],[-9.1,-4.6],
[2.0,2.9],[1.6,3.7],[2.6,-2.7],[2.0,-3.3],[1.8,-4.0],[1.1,-4.7],[-0.7,-5.4],[-1.6,-5.9],[-2.6,-6.3],[-3.3,-5.8],[1.4,-5.9],[-0.2,-5.2],
[-6.9,-2.6],[-7.2,2.6],[-6.6,3.4],[-5.4,4.2],[-3.0,4.0],[-2.0,4.3],[-4.0,3.8],[-8.8,2.4],[-9.6,0.2],[-10.5,-1.5],[-9.7,-3.3],[-11.1,2.5],[-9.0,4.0]
];
// ---- model ellipses (centre, semi-axes) ----
const msEllipses=[{l:-2.3,b:-0.62,rl:7.5,rb:4.77},{l:-3.18,b:-0.62,rl:5.78,rb:3.17}];
const giantEllipses=[{l:-6.08,b:-0.22,rl:8.6,rb:8.1},{l:-6.15,b:-0.26,rl:5.8,rb:5.42}];
const boundary={l:-6.15,b:-0.07,r:10.52};
const source={l:-6.17,b:-0.03,el:1.0,eb:0.75};
const legendItems=["main sequence","giants","source"];

// ---- drawing ----
const W=700,H=688, L=110,R=677,T=9,B=619;
const svg=d3.select("#c");
svg.append("rect").attr("width",W).attr("height",H).attr("fill","#fff");
const x=d3.scaleLinear().domain(xDomain).range([L,R]);
const y=d3.scaleLinear().domain(yDomain).range([B,T]);
const BLUE="#1212e8", RED="#f01e1e", DRED="#941414";
svg.append("clipPath").attr("id","pc").append("rect").attr("x",L).attr("y",T).attr("width",R-L).attr("height",B-T);
const g=svg.append("g").attr("clip-path","url(#pc)");
const DOT=2.9;
function dots(data,col){
  g.append("g").selectAll("circle").data(data).join("circle")
   .attr("cx",d=>x(d[0])).attr("cy",d=>y(d[1])).attr("r",DOT).attr("fill",col);
}
dots(giantsCore.concat(giantsOuter),RED);
dots(msCore.concat(msOuter),BLUE);
dots(giantsDense,RED);
dots(msDense,BLUE);

const pxl=Math.abs(x(1)-x(0)), pxb=Math.abs(y(1)-y(0));
g.selectAll(".ms").data(msEllipses).join("ellipse").attr("class","ms")
 .attr("cx",d=>x(d.l)).attr("cy",d=>y(d.b)).attr("rx",d=>d.rl*pxl).attr("ry",d=>d.rb*pxb)
 .attr("fill","none").attr("stroke",BLUE).attr("stroke-width",2);
g.selectAll(".gi").data(giantEllipses).join("ellipse").attr("class","gi")
 .attr("cx",d=>x(d.l)).attr("cy",d=>y(d.b)).attr("rx",d=>d.rl*pxl).attr("ry",d=>d.rb*pxb)
 .attr("fill","none").attr("stroke",DRED).attr("stroke-width",2);
g.append("ellipse").attr("cx",x(boundary.l)).attr("cy",y(boundary.b))
 .attr("rx",boundary.r*pxl).attr("ry",boundary.r*pxb)
 .attr("fill","none").attr("stroke","#1a1a1a").attr("stroke-width",2).attr("stroke-dasharray","7,4.5");

// source with error bars
const sg=g.append("g").attr("stroke","#000").attr("stroke-width",1.5);
const sx=x(source.l), sy=y(source.b);
sg.append("line").attr("x1",x(source.l+source.el)).attr("x2",x(source.l-source.el)).attr("y1",sy).attr("y2",sy);
sg.append("line").attr("x1",sx).attr("x2",sx).attr("y1",y(source.b+source.eb)).attr("y2",y(source.b-source.eb));
sg.append("line").attr("x1",sx-4).attr("x2",sx+4).attr("y1",y(source.b+source.eb)).attr("y2",y(source.b+source.eb));
sg.append("line").attr("x1",sx-4).attr("x2",sx+4).attr("y1",y(source.b-source.eb)).attr("y2",y(source.b-source.eb));
g.append("circle").attr("cx",sx).attr("cy",sy).attr("r",5).attr("fill","#000");

// frame and ticks
const FONT="'DejaVu Serif',serif";
const ax=svg.append("g").attr("stroke","#222");
const xMinor=d3.range(-20,9,1).filter(v=>xMajor.indexOf(v)<0);
const yMinor=d3.range(-15,14,1).filter(v=>yMajor.indexOf(v)<0);
function tx(v,len){ax.append("line").attr("x1",x(v)).attr("x2",x(v)).attr("y1",B).attr("y2",B-len).attr("stroke-width",1.4);
 ax.append("line").attr("x1",x(v)).attr("x2",x(v)).attr("y1",T).attr("y2",T+len).attr("stroke-width",1.4);}
function ty(v,len){ax.append("line").attr("y1",y(v)).attr("y2",y(v)).attr("x1",L).attr("x2",L+len).attr("stroke-width",1.4);
 ax.append("line").attr("y1",y(v)).attr("y2",y(v)).attr("x1",R).attr("x2",R-len).attr("stroke-width",1.4);}
xMajor.forEach(v=>tx(v,10)); xMinor.forEach(v=>tx(v,5));
yMajor.forEach(v=>ty(v,10)); yMinor.forEach(v=>ty(v,5));
svg.append("rect").attr("x",L).attr("y",T).attr("width",R-L).attr("height",B-T)
 .attr("fill","none").attr("stroke","#222").attr("stroke-width",2);

const fmt=v=>v<0?"\u2212"+Math.abs(v):String(v);
svg.append("g").selectAll("text").data(xMajor).join("text")
 .attr("x",v=>x(v)).attr("y",648).attr("text-anchor","middle")
 .style("font-family",FONT).attr("font-size",21).attr("fill","#333").text(fmt);
svg.append("g").selectAll("text").data(yMajor).join("text")
 .attr("x",101).attr("y",v=>y(v)+7.5).attr("text-anchor","end")
 .style("font-family",FONT).attr("font-size",21).attr("fill","#333").text(fmt);

// axis labels
function axisLabel(sel,sub){
  sel.append("tspan").attr("font-style","italic").text("\u03bc");
  sel.append("tspan").attr("font-style","italic").attr("font-size",15).attr("dy",5).text(sub);
  sel.append("tspan").attr("dy",-5).text(" (mas\u2009yr");
  sel.append("tspan").attr("font-size",15).attr("dy",-9).text("\u22121");
  sel.append("tspan").attr("dy",9).text(")");
}
const xl=svg.append("text").attr("x",(L+R)/2).attr("y",676).attr("text-anchor","middle")
 .style("font-family",FONT).attr("font-size",21).attr("fill","#333");
axisLabel(xl,"l");
const yl=svg.append("text").attr("transform",`translate(43,${(T+B)/2}) rotate(-90)`).attr("text-anchor","middle")
 .style("font-family",FONT).attr("font-size",21).attr("fill","#333");
axisLabel(yl,"b");

// legend
const lg=svg.append("g");
const ly=[530,563,597];
lg.append("line").attr("x1",433).attr("x2",475).attr("y1",ly[0]).attr("y2",ly[0]).attr("stroke",BLUE).attr("stroke-width",2);
lg.append("line").attr("x1",433).attr("x2",475).attr("y1",ly[1]).attr("y2",ly[1]).attr("stroke",DRED).attr("stroke-width",2);
lg.append("circle").attr("cx",454).attr("cy",ly[2]).attr("r",5).attr("fill","#000");
lg.selectAll("text").data(legendItems).join("text").attr("x",495).attr("y",(d,i)=>ly[i]+6)
 .style("font-family",FONT).attr("font-size",21).attr("fill","#333").text(d=>d);
</script></body></html>
